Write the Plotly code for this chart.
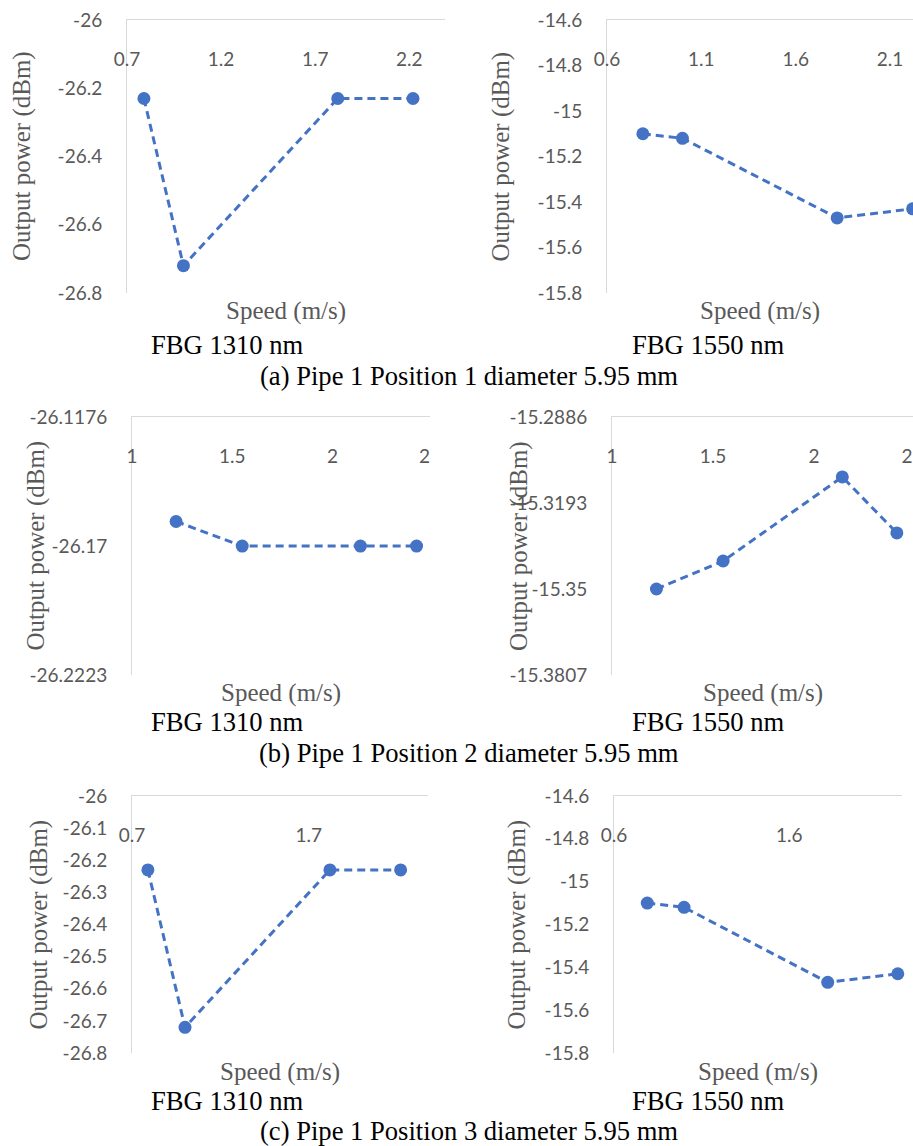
import plotly.graph_objects as go

# ---------------- data ----------------
speed_a = [0.79, 1.0, 1.82, 2.22]
power_a_1310 = [-26.23, -26.72, -26.23, -26.23]
power_a_1550 = [-15.10, -15.12, -15.47, -15.43]

speed_b_1310 = [1.22, 1.55, 2.14, 2.42]
power_b_1310 = [-26.16, -26.17, -26.17, -26.17]
speed_b_1550 = [1.22, 1.55, 2.14, 2.41]
power_b_1550 = [-15.35, -15.34, -15.31, -15.33]

speed_c = [0.79, 1.0, 1.82, 2.22]
power_c_1310 = [-26.23, -26.72, -26.23, -26.23]
power_c_1550 = [-15.10, -15.12, -15.47, -15.43]

xt_a_1310 = [0.7, 1.2, 1.7, 2.2]
xt_a_1550 = [0.6, 1.1, 1.6, 2.1]
yt_a_1310 = [-26, -26.2, -26.4, -26.6, -26.8]
yt_a_1550 = [-14.6, -14.8, -15, -15.2, -15.4, -15.6, -15.8]

xt_b = [1, 1.5, 2, 2.46]
xt_b_text = ["1", "1.5", "2", "2"]
yt_b_1310 = [-26.1176, -26.17, -26.2223]
yt_b_1550 = [-15.2886, -15.3193, -15.35, -15.3807]

xt_c_1310 = [0.7, 1.7]
xt_c_1550 = [0.6, 1.6]
yt_c_1310 = [-26, -26.1, -26.2, -26.3, -26.4, -26.5, -26.6, -26.7, -26.8]
yt_c_1550 = [-14.6, -14.8, -15, -15.2, -15.4, -15.6, -15.8]

sub_titles = ["FBG 1310 nm", "FBG 1550 nm"]
captions = ["(a) Pipe 1 Position 1 diameter 5.95 mm",
            "(b) Pipe 1 Position 2 diameter 5.95 mm",
            "(c) Pipe 1 Position 3 diameter 5.95 mm"]
x_title = "Speed (m/s)"
y_title = "Output power (dBm)"

def fmt(v):
    return ("%g" % v)

# ---------------- layout ----------------
W, H = 913, 1146
BLUE = "#4472C4"
GRAY_TXT = "#595959"
LINE = "#D9D9D9"
TICKFONT = dict(family="Lato", size=19, color=GRAY_TXT)
SERIF = "Liberation Serif"

# pixel boxes: (left, right, top, bottom)
panels = [
    dict(x=speed_a, y=power_a_1310, box=(127, 445, 20, 293), xr=[0.7, 2.39], yr=[-26.8, -26.0],
         xt=xt_a_1310, xtt=[fmt(v) for v in xt_a_1310], yt=yt_a_1310, ytt=[fmt(v) for v in yt_a_1310],
         ytx=22.5, xtitle_y=311, sub_y=345),
    dict(x=speed_a, y=power_a_1550, box=(607, 913, 20, 293), xr=[0.6, 2.222], yr=[-15.8, -14.6],
         xt=xt_a_1550, xtt=[fmt(v) for v in xt_a_1550], yt=yt_a_1550, ytt=[fmt(v) for v in yt_a_1550],
         ytx=501, xtitle_y=311, sub_y=345),
    dict(x=speed_b_1310, y=power_b_1310, box=(132, 430, 417, 675), xr=[1, 2.487], yr=[-26.2223, -26.1176],
         xt=xt_b, xtt=xt_b_text, yt=yt_b_1310, ytt=[fmt(v) for v in yt_b_1310],
         ytx=35.5, xtitle_y=693, sub_y=722),
    dict(x=speed_b_1550, y=power_b_1550, box=(612, 913, 417, 675), xr=[1, 2.49], yr=[-15.3807, -15.2886],
         xt=xt_b, xtt=xt_b_text, yt=yt_b_1550, ytt=[fmt(v) for v in yt_b_1550],
         ytx=519, xtitle_y=693, sub_y=722),
    dict(x=speed_c, y=power_c_1310, box=(132, 428, 796, 1053), xr=[0.7, 2.375], yr=[-26.8, -26.0],
         xt=xt_c_1310, xtt=[fmt(v) for v in xt_c_1310], yt=yt_c_1310, ytt=[fmt(v) for v in yt_c_1310],
         ytx=38, xtitle_y=1072, sub_y=1101),
    dict(x=speed_c, y=power_c_1550, box=(614, 902, 796, 1053), xr=[0.6, 2.244], yr=[-15.8, -14.6],
         xt=xt_c_1550, xtt=[fmt(v) for v in xt_c_1550], yt=yt_c_1550, ytt=[fmt(v) for v in yt_c_1550],
         ytx=516, xtitle_y=1072, sub_y=1101),
]

fig = go.Figure()
layout = dict(width=W, height=H, margin=dict(l=0, r=0, t=0, b=0, autoexpand=False),
              paper_bgcolor="white", plot_bgcolor="white", showlegend=False)
annotations = []

for i, p in enumerate(panels):
    n = "" if i == 0 else str(i + 1)
    l, r, t, b = p["box"]
    fig.add_trace(go.Scatter(
        x=p["x"], y=p["y"], mode="lines+markers",
        line=dict(color=BLUE, width=3, dash="8px,5px"),
        marker=dict(color=BLUE, size=13),
        xaxis="x" + n, yaxis="y" + n, cliponaxis=False))
    layout["xaxis" + n] = dict(
        domain=[l / W, min(r / W, 1.0)], anchor="y" + n, side="top",
        range=p["xr"], tickvals=p["xt"], ticktext=p["xtt"],
        ticklabelposition="inside", ticklabelstandoff=34, ticks="",
        ticklabeloverflow="allow", automargin=False,
        showgrid=False, zeroline=False, showline=True, linecolor=LINE, linewidth=1,
        tickfont=TICKFONT, fixedrange=True)
    layout["yaxis" + n] = dict(
        domain=[1 - b / H, 1 - t / H], anchor="x" + n,
        range=p["yr"], tickvals=p["yt"], ticktext=p["ytt"], ticks="",
        ticklabelstandoff=20, ticklabeloverflow="allow", automargin=False,
        showgrid=False, zeroline=False, showline=True, linecolor=LINE, linewidth=1,
        tickfont=TICKFONT, fixedrange=True)
    # y axis title
    annotations.append(dict(text=y_title, textangle=-90, xref="paper", yref="paper",
                            x=p["ytx"] / W, y=1 - ((t + b) / 2) / H, xanchor="center", yanchor="middle",
                            showarrow=False, font=dict(family=SERIF, size=25, color=GRAY_TXT)))
    # x axis title
    cx = (l + min(r, 913)) / 2
    annotations.append(dict(text=x_title, xref="paper", yref="paper",
                            x=cx / W, y=1 - p["xtitle_y"] / H, xanchor="center", yanchor="middle",
                            showarrow=False, font=dict(family=SERIF, size=25, color=GRAY_TXT)))
    # sub title
    sx = 227 if i % 2 == 0 else 708
    annotations.append(dict(text=sub_titles[i % 2], xref="paper", yref="paper",
                            x=sx / W, y=1 - p["sub_y"] / H, xanchor="center", yanchor="middle",
                            showarrow=False, font=dict(family=SERIF, size=26.6, color="black")))

cap_y = [376, 753, 1131]
for k, c in enumerate(captions):
    annotations.append(dict(text=c, xref="paper", yref="paper",
                            x=469 / W, y=1 - cap_y[k] / H, xanchor="center", yanchor="middle",
                            showarrow=False, font=dict(family=SERIF, size=26.6, color="black")))

layout["annotations"] = annotations
fig.update_layout(**layout)
fig.write_html("out.html", config={"displayModeBar": False},
               post_script="document.body.style.margin='0';document.body.style.overflow='hidden';")
